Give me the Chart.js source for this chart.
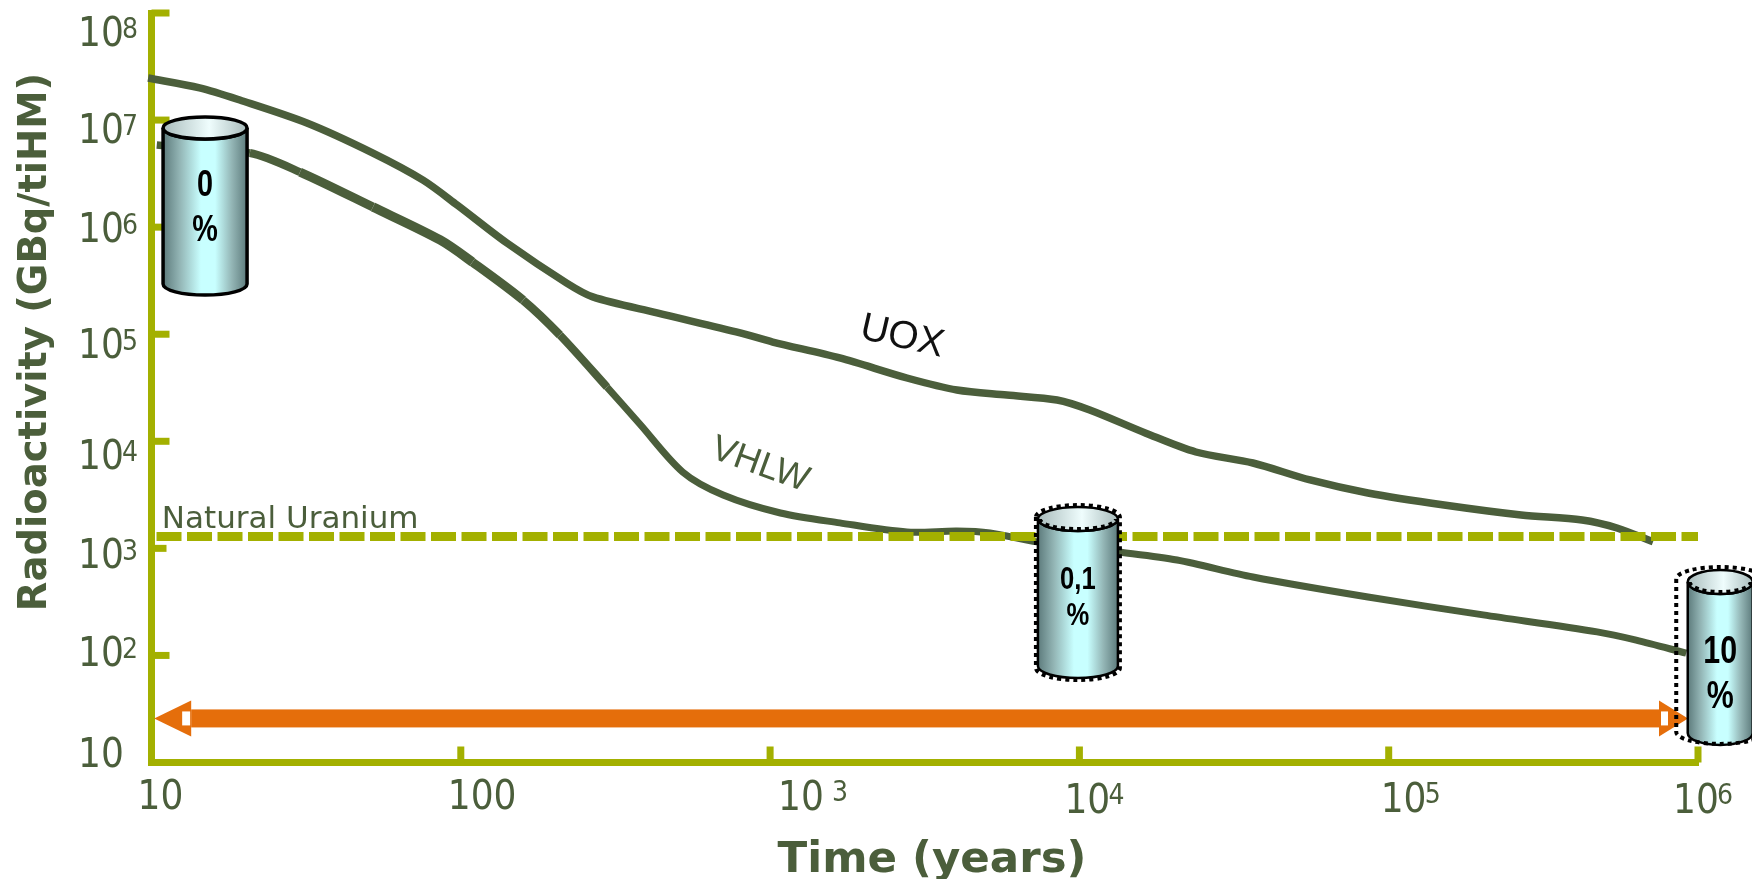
<!DOCTYPE html>
<html>
<head>
<meta charset="utf-8">
<title>Radioactivity</title>
<script src="https://cdn.jsdelivr.net/npm/chart.js@4"></script>
<style>
html,body{margin:0;padding:0;background:#fff;overflow:hidden}
canvas{display:block}
</style>
</head>
<body>
<canvas id="grafica" width="1752" height="879"></canvas>
<script>
// values
const uoxYears=[9.75,14.3,19.3,31.8,52,75.5,97.3,141,220,267,431,800,1020,1680,2770,4020,5830,8470,10800,16400,23800,36400,55700,85700,151000,268000,422000,547000,716000]
const uoxActivity=[2.47e7,2.0e7,1.54e7,9.4e6,4.92e6,2.75e6,1.61e6,7.1e5,3.0e5,2.23e5,1.58e5,1.03e5,8.45e4,6.0e4,3.9e4,3.01e4,2.7e4,2.43e4,1.96e4,1.19e4,7.94e3,6.27e3,4.35e3,3.29e3,2.54e3,2.05e3,1.84e3,1.55e3,1.15e3]
const vhlwYears=[10.4,20.8,30.2,52,85.7,109,159,209,297,379,522,705,1080,1680,2770,4020,5140,7290,13400,20700,36400,85700,202000,472000,631000,916000]
const vhlwActivity=[5.85e6,4.92e6,3.27e6,1.54e6,7.59e5,4.72e5,2.08e5,9.84e4,3.21e4,1.45e4,5.16e3,3.15e3,2.14e3,1.73e3,1.42e3,1.45e3,1.39e3,1.15e3,925,778,540,351,239,166,139,105]
const uraniumYears=[10.38,1000000]
const uraniumActivity=[1290,1290]
const arrowYears=[10.2,800000]
const arrowActivity=25.8

const xTickValues=[1e1,1e2,1e3,1e4,1e5,1e6]
const xTickBases=['10','100','10','10','10','10']
const xTickSups=['','','3','4','5','6']
const yTickValues=[1e1,1e2,1e3,1e4,1e5,1e6,1e7,1e8]
const yTickBases=['10','10','10','10','10','10','10','10']
const yTickSups=['','2','3','4','5','6','7','8']

const cylinderYears=[14.9,9890,1180000]
const cylinderTops=[1.07e7,2430,628]
const cylinderBottoms=[2.32e5,61.5,14.6]
const cylinderTexts=['0','0,1','10']

const xTitle='Time (years)'
const yTitle='Radioactivity (GBq/tiHM)'

const verde='#4b5e3b'
const oliva='#a3b000'
const naranja='#e56e0b'

// small corrections per label, the originals are not evenly placed
const xNudge=[[-14,46],[-13,46],[8,47],[-15,50],[-8,49],[-25,50]]
const xSupGap=[0,0,54,44,44,44]
const yNudge=[4,11,20,28,24,15,23,33]
const tickLen=[0,18,15,18,18,18,18,18]
const vhlwAncho=[7.5,8,9,9.5,9.5,9,8.5,8]
const cylinderStyle=[
    {w:84,ell:22,stroke:3.5,size:36,textY:[69,114],dotted:null},
    {w:80,ell:24,stroke:2.5,size:32,textY:[73,109],dotted:{w:84,top:-2,bot:2}},
    {w:65,ell:24,stroke:2.5,size:38,textY:[83,128],dotted:{w:88,top:-3,bot:-1}}
]

function cilindro(ctx,cx,top,bot,i){
    const s=cylinderStyle[i]
    const rx=s.w/2, ry=s.ell/2, l=cx-rx, r=cx+rx, t=top+ry, b=bot-ry
    const g=ctx.createLinearGradient(l,0,r,0)
    g.addColorStop(0,'#5d7b7c')
    g.addColorStop(0.2,'#93b5b5')
    g.addColorStop(0.45,'#c8ffff')
    g.addColorStop(0.62,'#c8ffff')
    g.addColorStop(0.82,'#93b5b5')
    g.addColorStop(1,'#5d7b7c')
    ctx.save()
    ctx.beginPath()
    ctx.moveTo(l,t)
    ctx.lineTo(l,b)
    ctx.ellipse(cx,b,rx,ry,0,Math.PI,0,true)
    ctx.lineTo(r,t)
    ctx.ellipse(cx,t,rx,ry,0,0,Math.PI,false)
    ctx.closePath()
    ctx.fillStyle=g
    ctx.fill()
    ctx.strokeStyle='#000'
    ctx.lineWidth=s.stroke
    ctx.stroke()
    const g2=ctx.createLinearGradient(l,0,r,0)
    g2.addColorStop(0,'#a9bcbc')
    g2.addColorStop(0.55,'#effdfd')
    g2.addColorStop(1,'#a9bcbc')
    ctx.beginPath()
    ctx.ellipse(cx,t,rx,ry,0,0,Math.PI*2)
    ctx.fillStyle=g2
    ctx.fill()
    ctx.stroke()
    if(s.dotted){
        const d=s.dotted, drx=d.w/2, dt=t+d.top, db=b+d.bot
        ctx.setLineDash([4,4])
        ctx.lineWidth=4
        ctx.beginPath()
        ctx.moveTo(cx-drx,dt)
        ctx.lineTo(cx-drx,db)
        ctx.ellipse(cx,db,drx,ry,0,Math.PI,0,true)
        ctx.lineTo(cx+drx,dt)
        ctx.ellipse(cx,dt,drx,ry,0,0,Math.PI,true)
        ctx.stroke()
        ctx.beginPath()
        ctx.ellipse(cx,t,rx-2,ry-2,0,Math.PI,0,true)
        ctx.stroke()
        ctx.setLineDash([])
    }
    // narrow bold lettering
    ctx.fillStyle='#000'
    ctx.textAlign='center'
    ctx.textBaseline='middle'
    ctx.font='bold '+s.size+'px "Liberation Sans"'
    ctx.translate(cx,0)
    ctx.scale(0.8,1)
    ctx.fillText(cylinderTexts[i],0,top+s.textY[0])
    ctx.fillText('%',0,top+s.textY[1])
    ctx.restore()
}

function flecha(ctx,x0,x1,y){
    ctx.save()
    ctx.fillStyle=naranja
    ctx.fillRect(x0+37,y-9,x1-x0-66,18)
    ctx.beginPath()
    ctx.moveTo(x0,y)
    ctx.lineTo(x0+37,y-18)
    ctx.lineTo(x0+37,y+18)
    ctx.closePath()
    ctx.fill()
    ctx.beginPath()
    ctx.moveTo(x1,y)
    ctx.lineTo(x1-29,y-18)
    ctx.lineTo(x1-29,y+18)
    ctx.closePath()
    ctx.fill()
    ctx.fillStyle='#fff'
    ctx.fillRect(x0+28,y-7,8,14)
    ctx.fillRect(x1-27,y-7,7,14)
    ctx.restore()
}

function rotado(ctx,text,x,y,deg,font,color){
    ctx.save()
    ctx.translate(x,y)
    ctx.rotate(deg*Math.PI/180)
    ctx.font=font
    ctx.fillStyle=color
    ctx.textAlign='center'
    ctx.textBaseline='middle'
    ctx.fillText(text,0,0)
    ctx.restore()
}

const adornos={
    id:'adornos',
    afterDatasetsDraw(chart){
        const ctx=chart.ctx, xs=chart.scales.x, ys=chart.scales.y
        ctx.save()
        // inward tick marks
        ctx.fillStyle=oliva
        xTickValues.forEach((v,i)=>{
            if(i==0) return
            ctx.fillRect(xs.getPixelForValue(v)-3.5,ys.bottom-16,7,16)
        })
        yTickValues.forEach((v,i)=>{
            if(!tickLen[i]) return
            ctx.fillRect(xs.left,ys.getPixelForValue(v)-3.5,tickLen[i],7)
        })
        // tick labels
        ctx.fillStyle=verde
        ctx.textAlign='left'
        ctx.textBaseline='alphabetic'
        xTickValues.forEach((v,i)=>{
            const px=xs.getPixelForValue(v)+xNudge[i][0], py=ys.bottom+xNudge[i][1]
            ctx.font='condensed 40px "DejaVu Sans"'
            ctx.fillText(xTickBases[i],px,py)
            if(xTickSups[i]){
                ctx.font='condensed 28px "DejaVu Sans"'
                ctx.fillText(xTickSups[i],px+xSupGap[i],py-9)
            }
        })
        yTickValues.forEach((v,i)=>{
            const py=ys.getPixelForValue(v)+yNudge[i]
            ctx.font='condensed 40px "DejaVu Sans"'
            ctx.fillText(yTickBases[i],78,py)
            if(yTickSups[i]){
                ctx.font='condensed 28px "DejaVu Sans"'
                ctx.fillText(yTickSups[i],122,py-8)
            }
        })
        ctx.font='31px "DejaVu Sans"'
        ctx.fillText('Natural Uranium',xs.getPixelForValue(10.8),ys.getPixelForValue(uraniumActivity[0])-9)
        // axis titles
        ctx.font='bold 43.5px "DejaVu Sans"'
        ctx.textAlign='center'
        ctx.fillText(xTitle,932,872)
        ctx.translate(46,342)
        ctx.rotate(-Math.PI/2)
        ctx.font='bold 38.5px "DejaVu Sans"'
        ctx.fillText(yTitle,0,0)
        ctx.restore()
        rotado(ctx,'UOX',xs.getPixelForValue(2670),ys.getPixelForValue(9.42e4),13,'39px "Liberation Sans"','#111')
        rotado(ctx,'VHLW',xs.getPixelForValue(927),ys.getPixelForValue(6000),20,'36px "Liberation Sans"',verde)
        flecha(ctx,xs.getPixelForValue(arrowYears[0]),1688,ys.getPixelForValue(arrowActivity))
        cylinderYears.forEach((yr,i)=>{
            cilindro(ctx,xs.getPixelForValue(yr),ys.getPixelForValue(cylinderTops[i]),ys.getPixelForValue(cylinderBottoms[i]),i)
        })
    }
}

function puntos(xx,yy){
    return xx.map((x,i)=>({x:x,y:yy[i]}))
}

const grafica=document.querySelector('#grafica')
new Chart(grafica,{
    type:'line',
    plugins:[adornos],
    data:{
        datasets:[
            {
                label:'Natural Uranium',
                data:puntos(uraniumYears,uraniumActivity),
                borderColor:oliva,
                borderWidth:9,
                borderDash:[25,5.5],
                pointRadius:0,
                clip:false
            },
            {
                label:'UOX',
                data:puntos(uoxYears,uoxActivity),
                borderColor:verde,
                borderWidth:7.5,
                tension:0.3,
                pointRadius:0,
                clip:false
            },
            {
                label:'VHLW',
                data:puntos(vhlwYears,vhlwActivity),
                borderColor:verde,
                borderWidth:7,
                tension:0.3,
                pointRadius:0,
                clip:false,
                segment:{
                    borderWidth:c=>vhlwAncho[c.p0DataIndex]||7
                }
            }
        ]
    },
    options:{
        responsive:false,
        animation:false,
        layout:{padding:{top:13,right:54,left:0,bottom:0}},
        plugins:{legend:{display:false},tooltip:{enabled:false},title:{display:false}},
        scales:{
            x:{
                type:'logarithmic',
                min:10,
                max:1000000,
                grid:{display:false,drawTicks:false},
                border:{color:oliva,width:7},
                ticks:{display:false},
                afterBuildTicks:s=>{s.ticks=xTickValues.map(v=>({value:v}))},
                afterFit:s=>{s.height=116.5}
            },
            y:{
                type:'logarithmic',
                min:10,
                max:100000000,
                grid:{display:false,drawTicks:false},
                border:{color:oliva,width:7},
                ticks:{display:false},
                afterBuildTicks:s=>{s.ticks=yTickValues.map(v=>({value:v}))},
                afterFit:s=>{s.width=151.5}
            }
        }
    }
})
</script>
</body>
</html>
